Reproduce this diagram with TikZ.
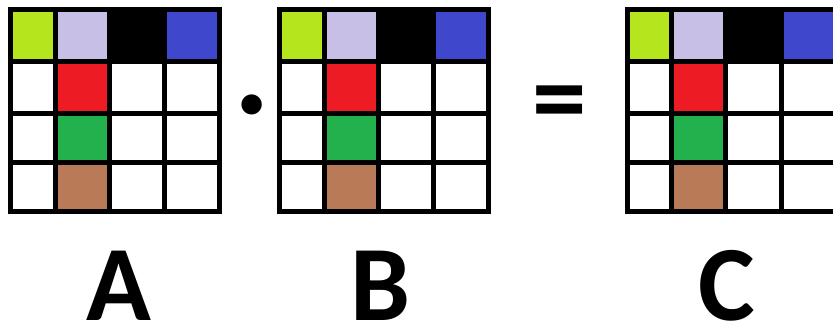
\documentclass[tikz,border=0pt]{standalone}
\usepackage{fontspec}
\setmainfont{Carlito}
\definecolor{paintlime}{RGB}{181,230,29}
\definecolor{paintlilac}{RGB}{200,191,231}
\definecolor{paintblue}{RGB}{63,72,204}
\definecolor{paintred}{RGB}{237,28,36}
\definecolor{paintgreen}{RGB}{34,177,76}
\definecolor{paintbrown}{RGB}{185,122,87}
\usetikzlibrary{positioning}

\begin{document}
\begin{tikzpicture}[x=1pt, y=-1pt,
  gridline/.style={line width=5pt, black},
  letter/.style={font=\fontsize{107}{107}\selectfont\bfseries, inner sep=0pt, anchor=base},
  opsign/.style={font=\fontsize{109}{109}\selectfont\bfseries, inner sep=0pt}]
\useasboundingbox (0,0) rectangle (833,326);
% Matrices A, B, C
\foreach \gx in {10.5, 279.5, 627} {
  \begin{scope}[shift={(\gx,10)}]
    % first row
    \fill[paintlime] (0,0) rectangle (44.5,52);
    \fill[paintlilac] (44.5,0) rectangle (98.5,52);
    \fill[black] (98.5,0) rectangle (154,52);
    \fill[paintblue] (154,0) rectangle (209,52);
    % second column
    \fill[paintred] (44.5,52) rectangle (98.5,104);
    \fill[paintgreen] (44.5,104) rectangle (98.5,153);
    \fill[paintbrown] (44.5,153) rectangle (98.5,201);
    % grid
    \foreach \cx in {44.5,98.5,154} \draw[gridline] (\cx,0) -- (\cx,201);
    \foreach \cy in {52,104,153} \draw[gridline] (0,\cy) -- (209,\cy);
    \draw[gridline] (0,0) rectangle (209,201);
  \end{scope}
}
% Operators
\node[opsign] (times) at (252.5,115) {·};
\node[opsign] (equals) at (560,110.5) {=};
% Labels
\node[letter] (labA) at (118.5,320) {A};
\node[letter] (labB) at (380,320) {B};
\node[letter] (labC) at (727,320) {C};
\end{tikzpicture}
\end{document}
